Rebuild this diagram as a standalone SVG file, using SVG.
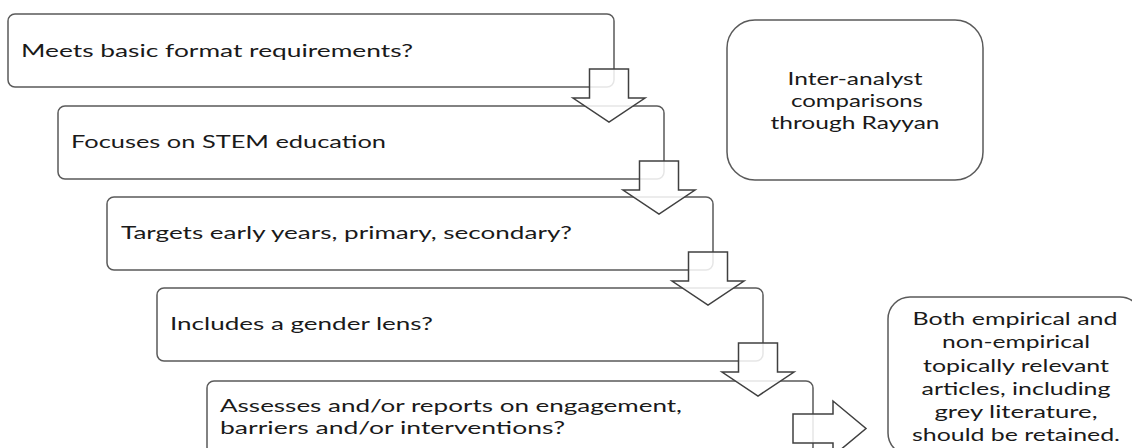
<svg xmlns="http://www.w3.org/2000/svg" width="1132" height="448" viewBox="0 0 1132 448">
<style>
  .box { fill: #ffffff; stroke: #5a5a5a; stroke-width: 1.5; }
  .arrow { fill: #ffffff; fill-opacity: 0.85; stroke: #404040; stroke-width: 1.5; stroke-linejoin: miter; }
  .t { font-family: Lato, "Liberation Sans", sans-serif; font-size: 17px; fill: #1a1a1a; }
  .c { text-anchor: middle; }
</style>
<rect x="0" y="0" width="1132" height="448" fill="#ffffff"/>

<g id="node-format">
  <rect class="box" x="8" y="14" width="606" height="73" rx="7"/>
  <text class="t" x="21" y="57" textLength="392" lengthAdjust="spacingAndGlyphs">Meets basic format requirements?</text>
</g>
<g id="node-stem">
  <rect class="box" x="58" y="106" width="606" height="73" rx="7"/>
  <text class="t" x="71" y="148" textLength="315" lengthAdjust="spacingAndGlyphs">Focuses on STEM education</text>
</g>
<g id="node-years">
  <rect class="box" x="107" y="197" width="606" height="73" rx="7"/>
  <text class="t" x="121" y="239" textLength="451" lengthAdjust="spacingAndGlyphs">Targets early years, primary, secondary?</text>
</g>
<g id="node-gender">
  <rect class="box" x="157" y="288" width="606" height="73" rx="7"/>
  <text class="t" x="170" y="330" textLength="263" lengthAdjust="spacingAndGlyphs">Includes a gender lens?</text>
</g>
<g id="node-assesses">
  <rect class="box" x="207" y="381" width="606" height="73" rx="7"/>
  <text class="t" x="220" y="412" textLength="462" lengthAdjust="spacingAndGlyphs">Assesses and/or reports on engagement,</text>
  <text class="t" x="220" y="434" textLength="345" lengthAdjust="spacingAndGlyphs">barriers and/or interventions?</text>
</g>
<g id="node-rayyan">
  <rect class="box" x="727" y="20" width="256" height="160" rx="28"/>
  <text class="t c" x="855" y="85" textLength="135" lengthAdjust="spacingAndGlyphs">Inter-analyst</text>
  <text class="t c" x="857" y="107" textLength="132" lengthAdjust="spacingAndGlyphs">comparisons</text>
  <text class="t c" x="855" y="129" textLength="169" lengthAdjust="spacingAndGlyphs">through Rayyan</text>
</g>
<g id="node-retained">
  <rect class="box" x="888" y="297" width="254" height="158" rx="22"/>
  <text class="t c" x="1015" y="325" textLength="205" lengthAdjust="spacingAndGlyphs">Both empirical and</text>
  <text class="t c" x="1016" y="348" textLength="148" lengthAdjust="spacingAndGlyphs">non-empirical</text>
  <text class="t c" x="1016" y="372" textLength="186" lengthAdjust="spacingAndGlyphs">topically relevant</text>
  <text class="t c" x="1016" y="395" textLength="189" lengthAdjust="spacingAndGlyphs">articles, including</text>
  <text class="t c" x="1016" y="418" textLength="163" lengthAdjust="spacingAndGlyphs">grey literature,</text>
  <text class="t c" x="1016" y="441" textLength="208" lengthAdjust="spacingAndGlyphs">should be retained.</text>
</g>

<g id="connectors">
  <polygon class="arrow" points="589.5,69 628.5,69 628.5,98 645,98 609,122 573,98 589.5,98"/>
  <polygon class="arrow" points="639.5,161 678.5,161 678.5,190 695,190 659,214 623,190 639.5,190"/>
  <polygon class="arrow" points="688.5,252 727.5,252 727.5,281 744,281 708,305 672,281 688.5,281"/>
  <polygon class="arrow" points="738.5,343 777.5,343 777.5,372 794,372 758,396 722,372 738.5,372"/>
  <polygon class="arrow" points="793,414 833,414 833,401 866,428.5 833,456 833,443 793,443"/>
</g>
</svg>
